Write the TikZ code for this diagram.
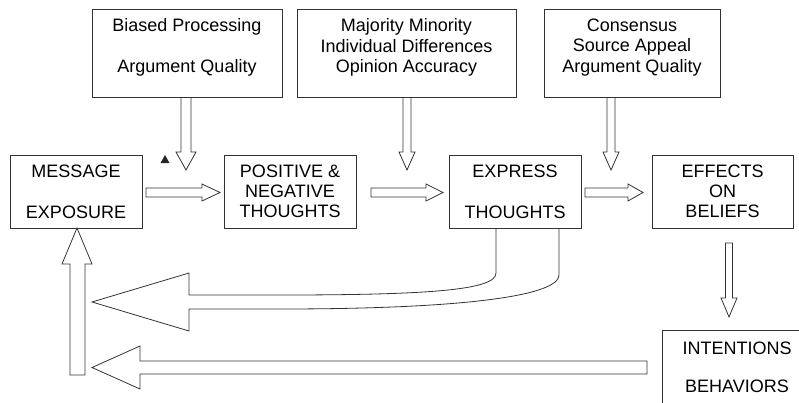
\documentclass[tikz,border=0pt]{standalone}
\usepackage{fontspec}
\setmainfont{Liberation Sans}
\begin{document}
\begin{tikzpicture}[x=1pt,y=-1pt,
	box/.style={draw=black!80, line width=0.8pt, inner sep=0pt},
	txt/.style={align=center, inner sep=0pt, font=\fontsize{18}{20}\selectfont},
	blk/.style={draw=black!80, line width=0.8pt, line join=miter}]
		
		\clip (0,0) rectangle (799,402);
		
		\node[box, minimum width=190pt, minimum height=88pt] (bias) at (187,53) {};
		\node[txt] (biastxt) at ([yshift=5.5pt]bias.center) {Biased Processing\\[21pt]Argument Quality};
		\node[box, minimum width=219pt, minimum height=88pt] (major) at (406.5,53) {};
		\node[txt] (majortxt) at ([yshift=5.5pt]major.center) {Majority Minority\\[0.5pt]Individual Differences\\[0.5pt]Opinion Accuracy};
		\node[box, minimum width=176pt, minimum height=88pt] (cons) at (632,53) {};
		\node[txt] (constxt) at ([yshift=5.5pt]cons.center) {Consensus\\[0.5pt]Source Appeal\\[0.5pt]Argument Quality};
		
		\node[box, txt, minimum width=132pt, minimum height=73pt] (msg) at (76,191.5) {MESSAGE\\[21pt]EXPOSURE};
		\node[box, txt, minimum width=132pt, minimum height=73pt] (pos) at (290,191.5) {POSITIVE \&\\NEGATIVE\\THOUGHTS};
		\node[box, txt, minimum width=132pt, minimum height=73pt] (expr) at (515,191.5) {EXPRESS\\[21pt]THOUGHTS};
		\node[box, txt, minimum width=141pt, minimum height=73pt] (eff) at (722.5,191.5) {EFFECTS\\ON\\BELIEFS};
		\node[box, txt, minimum width=150pt, minimum height=74pt] (intb) at (737,367) {INTENTIONS\\[18pt]BEHAVIORS};
		
		\fill[black!85](160.5,163)--(169.5,163)--(165,155)--cycle;
		
		\draw[blk](181,97)--(181,152)--(176,152)--(186,170)--(196,152)--(191,152)--(191,97);
		\draw[blk](403,97)--(403,152)--(399,152)--(407,170)--(415,152)--(411,152)--(411,97);
		\draw[blk](607,97)--(607,152)--(603,152)--(611,170)--(619,152)--(615,152)--(615,97);
		
		\draw[blk](146,188)--(202,188)--(202,184)--(220,192.5)--(202,201)--(202,197)--(146,197)--cycle;
		\draw[blk](371,188)--(426,188)--(426,184)--(443,192.5)--(426,201)--(426,197)--(371,197)--cycle;
		\draw[blk](585,188)--(628,188)--(628,184)--(643,192.5)--(628,201)--(628,197)--(585,197)--cycle;
		
		\draw[blk](725.5,243)--(732.5,243)--(732.5,298)--(737,298)--(729,317)
		--(721,298)--(725.5,298)--cycle;
		
		\draw[blk](70,375)--(70,264)--(62,264)--(77,228)--(92,264)--(85,264)--(85,375)--cycle;
		
		\draw[blk](496,228)--(496,273) .. controls (496,290) and (430,295) .. (280,295)
		--(189,295)--(189,273)--(92,302)--(189,331)--(189,309)--(280,309)
		.. controls (470,309) and (559,295) .. (559,275)--(559,228);
		
		\draw[blk](647,361)--(140,361)--(140,346)--(92,367.5)--(140,389)--(140,374)--(647,374)--cycle;
		\end{tikzpicture}
\end{document}
